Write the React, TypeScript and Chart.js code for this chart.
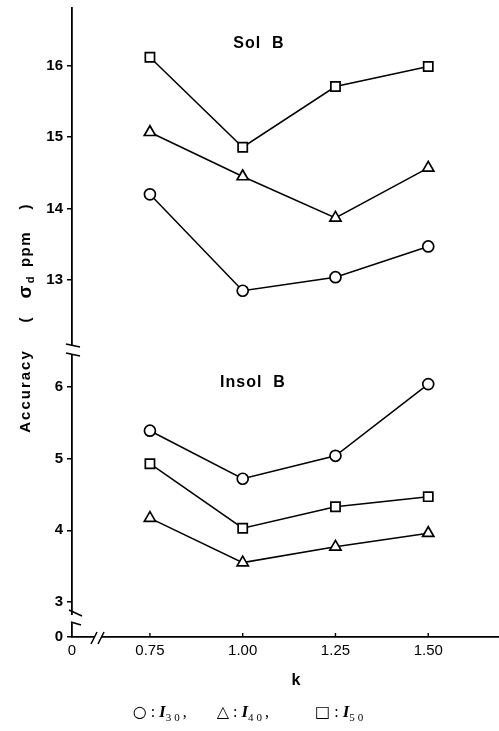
import React, { useEffect, useRef } from "react";
import { Chart, registerables } from "chart.js";

Chart.register(...registerables);

const kValues = [0.75, 1.0, 1.25, 1.5];
const xTickValues = [0.75, 1.0, 1.25, 1.5];
const xTickLabels = ["0.75", "1.00", "1.25", "1.50"];

// Sol B (upper panel)
const solI30 = [14.2, 12.85, 13.04, 13.47];
const solI40 = [15.07, 14.45, 13.87, 14.57];
const solI50 = [16.12, 14.86, 15.71, 15.99];

// Insol B (lower panel)
const insolI30 = [5.39, 4.72, 5.04, 6.04];
const insolI40 = [4.17, 3.55, 3.77, 3.96];
const insolI50 = [4.93, 4.03, 4.33, 4.47];

const topTicks = [13, 14, 15, 16];
const botTicks = [3, 4, 5, 6];

const FONT = '"Liberation Sans", Arial, sans-serif';

function mk(label: string, data: number[], axis: string, style: string) {
  return {
    label,
    data: kValues.map((k, i) => ({ x: k, y: data[i] })),
    yAxisID: axis,
    borderColor: "#000",
    borderWidth: 1.5,
    backgroundColor: "#fff",
    pointStyle: style,
    pointRadius: style === "circle" ? 5.5 : 6.5,
    pointBorderWidth: 1.7,
    pointBackgroundColor: "#fff",
    pointBorderColor: "#000",
    tension: 0,
    fill: false,
    clip: false,
  };
}

const decor = {
  id: "decor",
  afterDraw(chart: any) {
    const ctx = chart.ctx as CanvasRenderingContext2D;
    const { x, yTop, yBot } = chart.scales;
    const ca = chart.chartArea;
    const ax = yTop.right;
    const by = ca.bottom;
    ctx.save();
    // erase gaps
    ctx.fillStyle = "#fff";
    const b = yTop.bottom;
    ctx.fillRect(ax - 3, b - 4, 6, 9);
    const g1 = yBot.getPixelForValue(3) + 13;
    const g2 = g1 + 8;
    ctx.fillRect(ax - 3, g1, 6, g2 - g1);
    const xg = x.left + 22;
    ctx.fillRect(xg, by - 3, 7, 6);
    // break marks
    ctx.strokeStyle = "#000";
    ctx.lineWidth = 1.6;
    const line = (a: number, b1: number, c: number, d: number) => {
      ctx.beginPath();
      ctx.moveTo(a, b1);
      ctx.lineTo(c, d);
      ctx.stroke();
    };
    line(ax - 6, b - 6, ax + 8, b - 3);
    line(ax - 6, b + 3, ax + 8, b + 6);
    line(ax - 3, g1 - 5, ax + 10, g1 + 1);
    line(ax - 1, g2 - 1, ax + 9, g2 + 2);
    line(xg - 3, by + 7, xg + 3, by - 5);
    line(xg + 4, by + 7, xg + 10, by - 5);
    // inward x ticks
    ctx.lineWidth = 1.4;
    for (const v of xTickValues) {
      const px = x.getPixelForValue(v);
      line(px, by, px, by - 4);
    }
    // texts
    ctx.fillStyle = "#000";
    ctx.textAlign = "center";
    ctx.textBaseline = "middle";
    ctx.font = `bold 16px ${FONT}`;
    (ctx as any).letterSpacing = "1px";
    ctx.fillText("Sol  B", 259, 44);
    ctx.fillText("Insol  B", 253, 383);
    (ctx as any).letterSpacing = "0px";
    ctx.fillText("k", 296, 681);
    // y title
    ctx.save();
    ctx.translate(26, 0);
    ctx.rotate(-Math.PI / 2);
    ctx.font = `bold 15px ${FONT}`;
    (ctx as any).letterSpacing = "2px";
    ctx.fillText("Accuracy", -391, 0);
    (ctx as any).letterSpacing = "0px";
    ctx.fillText("(", -320, 0);
    ctx.font = `bold 19px ${FONT}`;
    ctx.fillText("σ", -292, 0);
    ctx.font = `bold 11px ${FONT}`;
    ctx.fillText("d", -280, 5);
    ctx.font = `bold 15px ${FONT}`;
    (ctx as any).letterSpacing = "1.5px";
    ctx.fillText("ppm", -249, 0);
    (ctx as any).letterSpacing = "0px";
    ctx.fillText(")", -207, 0);
    ctx.restore();
    ctx.restore();
  },
};

export default function App() {
  const ref = useRef<HTMLCanvasElement>(null);
  useEffect(() => {
    if (!ref.current) return;
    const chart = new Chart(ref.current, {
      type: "line",
      data: {
        datasets: [
          mk("I30 Sol", solI30, "yTop", "circle"),
          mk("I40 Sol", solI40, "yTop", "triangle"),
          mk("I50 Sol", solI50, "yTop", "rect"),
          mk("I30 Insol", insolI30, "yBot", "circle"),
          mk("I40 Insol", insolI40, "yBot", "triangle"),
          mk("I50 Insol", insolI50, "yBot", "rect"),
        ],
      },
      options: {
        animation: false,
        responsive: false,
        events: [],
        layout: { autoPadding: false, padding: { top: 8, right: 1, left: 0, bottom: 0 } },
        plugins: { legend: { display: false }, tooltip: { enabled: false } },
        scales: {
          x: {
            type: "linear",
            min: 0.54,
            max: 1.688,
            afterBuildTicks: (s: any) => {
              s.ticks = [{ value: 0.54 }, ...xTickValues.map((v) => ({ value: v }))];
            },
            afterFit: (s: any) => {
              s.height = 94;
              s.paddingLeft = 0;
              s.paddingRight = 0;
            },
            ticks: {
              autoSkip: false,
              maxRotation: 0,
              padding: 5,
              color: "#000",
              font: { family: FONT, size: 15 },
              callback: (v: any) => {
                const i = xTickValues.indexOf(v);
                return i >= 0 ? xTickLabels[i] : "0";
              },
            },
            grid: { display: false, drawTicks: false, tickLength: 0 },
            border: { display: true, color: "#000", width: 1.8 },
          },
          yBot: {
            type: "linear",
            position: "left",
            stack: "y",
            stackWeight: 287,
            min: 2.512,
            max: 6.516,
            afterBuildTicks: (s: any) => {
              s.ticks = [{ value: 2.512 }, ...botTicks.map((v) => ({ value: v }))];
            },
            afterFit: (s: any) => {
              s.width = 72;
              s.paddingTop = 0;
              s.paddingBottom = 0;
            },
            ticks: {
              padding: 4,
              color: "#000",
              font: { family: FONT, size: 15, weight: "bold" },
              callback: (v: any) => (botTicks.includes(v) ? String(v) : "0"),
            },
            grid: { drawOnChartArea: false, drawTicks: true, tickLength: 5, color: "#000", lineWidth: 1.5 },
            border: { display: true, color: "#000", width: 1.8 },
          },
          yTop: {
            type: "linear",
            position: "left",
            stack: "y",
            stackWeight: 342,
            min: 12.02,
            max: 16.81,
            afterBuildTicks: (s: any) => {
              s.ticks = topTicks.map((v) => ({ value: v }));
            },
            afterFit: (s: any) => {
              s.width = 72;
              s.paddingTop = 0;
              s.paddingBottom = 0;
            },
            ticks: {
              padding: 4,
              color: "#000",
              font: { family: FONT, size: 15, weight: "bold" },
            },
            grid: { drawOnChartArea: false, drawTicks: true, tickLength: 5, color: "#000", lineWidth: 1.5 },
            border: { display: true, color: "#000", width: 1.8 },
          },
        },
      },
      plugins: [decor],
    } as any);
    return () => chart.destroy();
  }, []);

  const sym: React.CSSProperties = { fontFamily: '"DejaVu Sans"', fontSize: 16, fontWeight: "normal" };
  const I = (n: string) => (
    <>
      <i style={{ fontWeight: "bold", fontSize: 17 }}>I</i>
      <sub style={{ fontSize: 11, letterSpacing: "3px" }}>{n}</sub>
    </>
  );

  return (
    <div style={{ position: "fixed", left: 0, top: 0, width: 499, height: 731, background: "#fff" }}>
      <canvas ref={ref} width={499} height={731} style={{ display: "block", width: 499, height: 731 }} />
      <div
        style={{
          position: "absolute",
          top: 702,
          left: 0,
          width: 499,
          textAlign: "center",
          fontFamily: '"Liberation Serif", "DejaVu Serif", serif',
          fontSize: 16,
          color: "#000",
          whiteSpace: "pre",
        }}
      >
        <span style={sym}>○</span>
        <span> : </span>
        {I("30")}
        <span>,</span>
        <span style={{ marginLeft: 30 }} />
        <span style={sym}>△</span>
        <span> : </span>
        {I("40")}
        <span>,</span>
        <span style={{ marginLeft: 46 }} />
        <span style={sym}>□</span>
        <span> : </span>
        {I("50")}
      </div>
    </div>
  );
}
